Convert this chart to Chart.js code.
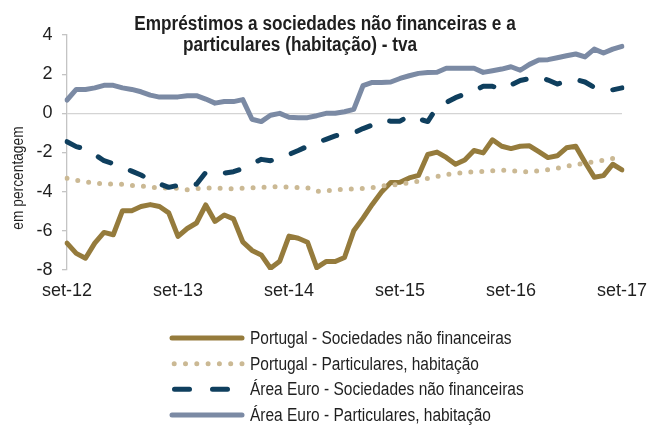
<!DOCTYPE html>
<html>
<head>
<meta charset="utf-8">
<script src="https://cdn.jsdelivr.net/npm/chart.js@4.4.1/dist/chart.umd.min.js"></script>
<style>
  html, body { margin: 0; padding: 0; background: #ffffff; }
  #wrap { width: 657px; height: 426px; position: relative; }
</style>
</head>
<body>
<div id="wrap"><canvas id="chart" width="657" height="426"></canvas></div>
<script>
// Monthly observations, September 2012 to September 2017 (annual growth rate, %)
const months = [
  'set-12','out-12','nov-12','dez-12',
  'jan-13','fev-13','mar-13','abr-13','mai-13','jun-13','jul-13','ago-13','set-13','out-13','nov-13','dez-13',
  'jan-14','fev-14','mar-14','abr-14','mai-14','jun-14','jul-14','ago-14','set-14','out-14','nov-14','dez-14',
  'jan-15','fev-15','mar-15','abr-15','mai-15','jun-15','jul-15','ago-15','set-15','out-15','nov-15','dez-15',
  'jan-16','fev-16','mar-16','abr-16','mai-16','jun-16','jul-16','ago-16','set-16','out-16','nov-16','dez-16',
  'jan-17','fev-17','mar-17','abr-17','mai-17','jun-17','jul-17','ago-17','set-17'
];

// Portugal - non-financial corporations
const ptSociedades = [
  -6.63, -7.15, -7.40, -6.63, -6.08, -6.20, -4.97, -4.97, -4.76, -4.66, -4.76, -5.08,
  -6.28, -5.88, -5.60, -4.68, -5.52, -5.19, -5.39, -6.56, -7.00, -7.23, -7.91, -7.55,
  -6.27, -6.38, -6.58, -7.88, -7.57, -7.57, -7.36, -6.00, -5.35, -4.65, -4.02, -3.53,
  -3.52, -3.30, -3.17, -2.10, -1.98, -2.25, -2.60, -2.38, -1.90, -2.02, -1.35, -1.68,
  -1.80, -1.68, -1.66, -1.96, -2.26, -2.17, -1.76, -1.68, -2.50, -3.26, -3.18, -2.60,
  -2.89
];

// Portugal - households, housing
const ptHabitacao = [
  -3.32, -3.42, -3.50, -3.57, -3.60, -3.61, -3.62, -3.68, -3.71, -3.77, -3.82, -3.80,
  -3.83, -3.90, -3.85, -3.82, -3.81, -3.84, -3.85, -3.82, -3.80, -3.78, -3.76, -3.74,
  -3.77, -3.79, -3.80, -3.98, -3.96, -3.90, -3.88, -3.86, -3.83, -3.79, -3.71, -3.67,
  -3.62, -3.55, -3.46, -3.32, -3.23, -3.12, -3.07, -3.02, -2.99, -2.96, -2.93, -2.91,
  -2.92, -2.98, -2.98, -2.93, -2.88, -2.80, -2.70, -2.62, -2.54, -2.47, -2.40, -2.30,
  -2.12
];

// Euro area - non-financial corporations
const euSociedades = [
  -1.45, -1.70, -1.82, -2.10, -2.42, -2.57, -2.75, -2.95, -3.15, -3.40, -3.60, -3.78,
  -3.68, -3.55, -3.62, -3.02, -3.00, -3.05, -2.98, -2.82, -2.58, -2.35, -2.42, -2.28,
  -2.10, -1.90, -1.68, -1.50, -1.33, -1.15, -1.05, -1.00, -0.78, -0.60, -0.35, -0.40,
  -0.40, -0.12, -0.28, -0.42, 0.30, 0.55, 0.80, 0.98, 1.15, 1.38, 1.38, 1.22,
  1.45, 1.68, 1.78, 1.86, 1.70, 1.50, 1.62, 1.73, 1.60, 1.32, 1.17, 1.20,
  1.30
];

// Euro area - households, housing
const euHabitacao = [
  0.68, 1.22, 1.22, 1.30, 1.43, 1.43, 1.30, 1.22, 1.10, 0.93, 0.83, 0.83,
  0.84, 0.90, 0.90, 0.73, 0.52, 0.60, 0.60, 0.70, -0.30, -0.42, -0.10, 0.00,
  -0.20, -0.22, -0.22, -0.12, 0.00, 0.00, 0.08, 0.20, 1.41, 1.58, 1.58, 1.60,
  1.78, 1.92, 2.04, 2.09, 2.10, 2.30, 2.30, 2.30, 2.30, 2.09, 2.17, 2.26,
  2.38, 2.20, 2.50, 2.72, 2.74, 2.84, 2.94, 3.03, 2.88, 3.28, 3.08, 3.28,
  3.42
];

const seriesNames = [
  'Portugal - Sociedades não financeiras',
  'Portugal - Particulares, habitação',
  'Área Euro - Sociedades não financeiras',
  'Área Euro - Particulares, habitação'
];

const yTicks = { min: -8, max: 4, step: 2 };
const chartTitle = ['Empréstimos a sociedades não financeiras e a', 'particulares (habitação) - tva'];
const yAxisTitle = 'em percentagem';

const REGULAR = "'Liberation Sans', Arial, sans-serif";
const TEXT = '#1f1f1f';
// horizontal squeeze giving the narrow face used for title, caption and legend
const NARROW_FACTOR = 0.86;

const COLORS = {
  gold: '#957b3c',
  sand: '#cbb994',
  navy: '#0f3f5e',
  slate: '#7b8aa4'
};

function lineSet(label, data, color, extra) {
  return Object.assign({
    label, data,
    borderColor: color,
    backgroundColor: color,
    borderWidth: 5,
    pointRadius: 0,
    pointHoverRadius: 0,
    tension: 0,
    fill: false,
    borderCapStyle: 'round',
    borderJoinStyle: 'round'
  }, extra || {});
}

const datasets = [
  lineSet(seriesNames[0], ptSociedades, COLORS.gold, { order: 4 }),
  lineSet(seriesNames[1], ptHabitacao, COLORS.sand, { order: 3, borderDash: [0, 11] }),
  lineSet(seriesNames[2], euSociedades, COLORS.navy, { order: 2, borderDash: [14, 21] }),
  lineSet(seriesNames[3], euHabitacao, COLORS.slate, { order: 1 })
];

// line samples used in the legend (dash patterns drawn over a 70 px stroke)
const legendDash = [[], [0, 11.3], [15, 23], []];
const legendDashOffset = [0, 0, 23.5, 0];

function narrowText(ctx, text, x, y, align) {
  ctx.save();
  ctx.translate(x, y);
  ctx.scale(NARROW_FACTOR, 1);
  ctx.textAlign = align;
  ctx.fillText(text, 0, 0);
  ctx.restore();
}

// Title, rotated axis caption and a one-column legend under the plot
const annotations = {
  id: 'annotations',
  afterDraw(chart) {
    const ctx = chart.ctx;
    ctx.save();
    ctx.fillStyle = TEXT;
    ctx.textBaseline = 'alphabetic';
    ctx.font = 'bold 20px ' + REGULAR;
    narrowText(ctx, chartTitle[0], 325, 30, 'center');
    narrowText(ctx, chartTitle[1], 300, 51, 'center');

    ctx.save();
    ctx.translate(19, 178);
    ctx.rotate(-Math.PI / 2);
    ctx.textBaseline = 'middle';
    ctx.font = '16px ' + REGULAR;
    narrowText(ctx, yAxisTitle, 0, 0, 'center');
    ctx.restore();

    const x0 = 172, x1 = 242, textX = 250, rowTop = 338, rowGap = 25.67;
    chart.data.datasets.forEach((ds, i) => {
      const y = rowTop + i * rowGap;
      ctx.save();
      ctx.strokeStyle = ds.borderColor;
      ctx.lineWidth = ds.borderWidth;
      ctx.lineCap = 'round';
      ctx.setLineDash(legendDash[i]);
      ctx.lineDashOffset = legendDashOffset[i];
      ctx.beginPath();
      ctx.moveTo(x1, y);
      ctx.lineTo(x0, y);
      ctx.stroke();
      ctx.restore();
      ctx.fillStyle = TEXT;
      ctx.font = '18px ' + REGULAR;
      ctx.textBaseline = 'middle';
      narrowText(ctx, ds.label, textX, y + 1, 'left');
    });
    ctx.restore();
  }
};

new Chart(document.getElementById('chart'), {
  type: 'line',
  data: { labels: months, datasets },
  options: {
    responsive: false,
    devicePixelRatio: 1,
    animation: false,
    events: [],
    layout: { padding: { top: 35, right: 30, bottom: 126, left: 0 } },
    scales: {
      x: {
        type: 'category',
        offset: false,
        grid: { display: false, drawTicks: false },
        border: { display: false },
        ticks: {
          autoSkip: false,
          maxRotation: 0,
          minRotation: 0,
          padding: 10,
          color: TEXT,
          font: { family: REGULAR, size: 18 },
          callback: (value, index) => (index % 12 === 0 ? months[index] : null)
        },
        afterFit: (scale) => { scale.height = 30; }
      },
      y: {
        min: yTicks.min,
        max: yTicks.max,
        grid: {
          drawTicks: true,
          tickLength: 5,
          lineWidth: 1.3,
          color: (c) => (c.tick && c.tick.value === 0 ? '#d4d4d4' : 'rgba(0,0,0,0)'),
          tickColor: '#c4c4c4'
        },
        border: { display: true, color: '#c4c4c4', width: 1.3 },
        ticks: {
          stepSize: yTicks.step,
          padding: 9.5,
          color: TEXT,
          font: { family: REGULAR, size: 18 }
        },
        afterFit: (scale) => { scale.width = 67; }
      }
    },
    plugins: {
      title: { display: false },
      tooltip: { enabled: false },
      legend: { display: false }
    }
  },
  plugins: [annotations]
});
</script>
</body>
</html>
